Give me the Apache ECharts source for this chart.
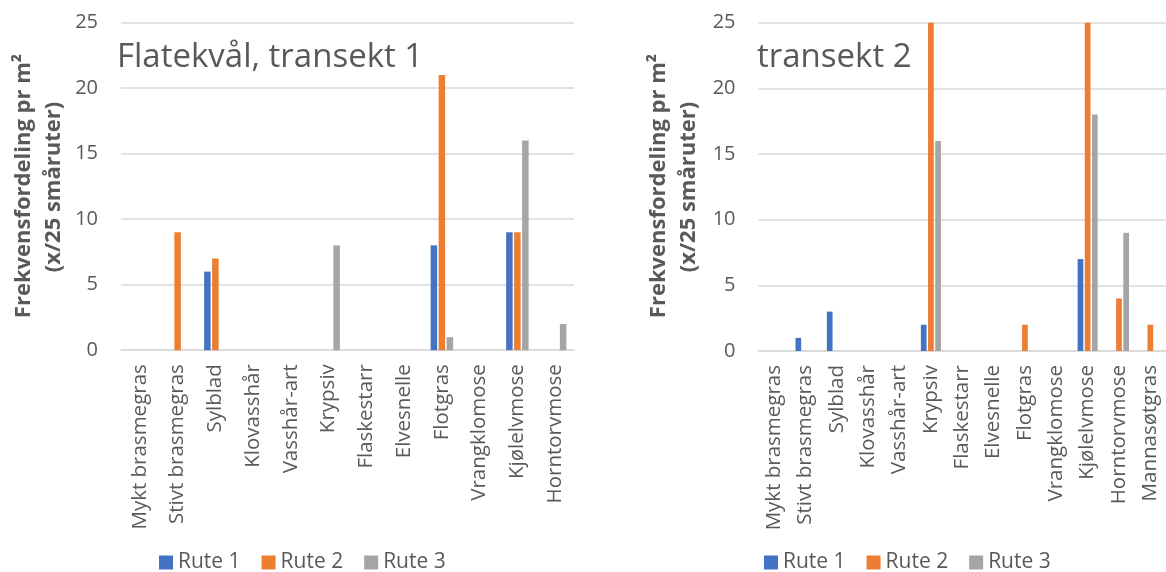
<!DOCTYPE html>
<html>
<head>
<meta charset="utf-8">
<script src="https://cdn.jsdelivr.net/npm/echarts@6/dist/echarts.min.js"></script>
<style>
html,body{margin:0;padding:0;background:#fff;}
#c{width:1166px;height:572px;}
</style>
</head>
<body>
<div id="c"></div>
<script>
const categories1 = ['Mykt brasmegras','Stivt brasmegras','Sylblad','Klovasshår','Vasshår-art','Krypsiv','Flaskestarr','Elvesnelle','Flotgras','Vrangklomose','Kjølelvmose','Horntorvmose'];
const categories2 = ['Mykt brasmegras','Stivt brasmegras','Sylblad','Klovasshår','Vasshår-art','Krypsiv','Flaskestarr','Elvesnelle','Flotgras','Vrangklomose','Kjølelvmose','Horntorvmose','Mannasøtgras'];
const rute1_t1 = [0,0,6,0,0,0,0,0,8,0,9,0];
const rute2_t1 = [0,9,7,0,0,0,0,0,21,0,9,0];
const rute3_t1 = [0,0,0,0,0,8,0,0,1,0,16,2];
const rute1_t2 = [0,1,3,0,0,2,0,0,0,0,7,0,0];
const rute2_t2 = [0,0,0,0,0,25,0,0,2,0,25,4,2];
const rute3_t2 = [0,0,0,0,0,16,0,0,0,0,18,9,0];
const seriesNames = ['Rute 1','Rute 2','Rute 3'];
const yTicks = {min:0, max:25, interval:5};
const title1 = 'Flatekvål, transekt 1';
const title2 = 'transekt 2';
const yTitle1 = 'Frekvensfordeling pr m²';
const yTitle2 = '(x/25 småruter)';

const colors = ['#4472C4','#ED7D31','#A5A5A5'];
const FONT = 'Open Sans';
const TXT = '#595959';

function xAxisCfg(idx, cats){
  return {
    type:'category', gridIndex:idx, data:cats,
    axisLine:{show:true, lineStyle:{color:'#D9D9D9', width:1.5}},
    axisTick:{show:false},
    axisLabel:{rotate:90, interval:0, margin:14, fontSize:20.5, color:TXT, fontFamily:FONT},
    splitLine:{show:false}
  };
}
function yAxisCfg(idx){
  return {
    type:'value', gridIndex:idx, min:yTicks.min, max:yTicks.max, interval:yTicks.interval,
    axisLine:{show:false}, axisTick:{show:false},
    axisLabel:{margin:23, fontSize:20, color:TXT, fontFamily:FONT},
    splitLine:{lineStyle:{color:'#D9D9D9', width:1.5}}
  };
}
function barSeries(name, data, axisIdx, color, bw, gap){
  return {
    name:name, type:'bar', xAxisIndex:axisIdx, yAxisIndex:axisIdx, data:data,
    barWidth:bw, barGap:gap, itemStyle:{color:color}, silent:true, animation:false
  };
}
function legendCfg(left){
  return {data:seriesNames, left:left, top:552, padding:0, itemWidth:14, itemHeight:14, itemGap:21, icon:'rect',
    textStyle:{fontSize:21, color:TXT, fontFamily:FONT}, selectedMode:false};
}

const chart = echarts.init(document.getElementById('c'), null, {renderer:'canvas'});
const option = {
  animation:false,
  grid:[
    {left:121, top:22.7, width:453, height:327.5},
    {left:758.5, top:22.7, width:409.5, height:328.3}
  ],
  xAxis:[xAxisCfg(0, categories1), xAxisCfg(1, categories2)],
  yAxis:[yAxisCfg(0), yAxisCfg(1)],
  legend:[legendCfg(159), legendCfg(764)],
  graphic:[
    {type:'text', left:117, top:41, style:{text:title1, fontSize:33, fill:TXT, fontFamily:FONT}},
    {type:'text', left:757, top:41, style:{text:title2, fontSize:33, fill:TXT, fontFamily:FONT}},
    {type:'text', x:24, y:186, rotation:Math.PI/2, style:{text:yTitle1, fontSize:22, fontWeight:'bold', fill:TXT, fontFamily:FONT, align:'center', verticalAlign:'middle'}},
    {type:'text', x:54, y:187, rotation:Math.PI/2, style:{text:yTitle2, fontSize:22, fontWeight:'bold', fill:TXT, fontFamily:FONT, align:'center', verticalAlign:'middle'}},
    {type:'text', x:659, y:186, rotation:Math.PI/2, style:{text:yTitle1, fontSize:22, fontWeight:'bold', fill:TXT, fontFamily:FONT, align:'center', verticalAlign:'middle'}},
    {type:'text', x:689, y:187, rotation:Math.PI/2, style:{text:yTitle2, fontSize:22, fontWeight:'bold', fill:TXT, fontFamily:FONT, align:'center', verticalAlign:'middle'}}
  ],
  series:[
    barSeries(seriesNames[0], rute1_t1, 0, colors[0], 6.5, '23%'),
    barSeries(seriesNames[1], rute2_t1, 0, colors[1], 6.5, '23%'),
    barSeries(seriesNames[2], rute3_t1, 0, colors[2], 6.5, '23%'),
    barSeries(seriesNames[0], rute1_t2, 1, colors[0], 5.7, '26%'),
    barSeries(seriesNames[1], rute2_t2, 1, colors[1], 5.7, '26%'),
    barSeries(seriesNames[2], rute3_t2, 1, colors[2], 5.7, '26%')
  ]
};
chart.setOption(option);
</script>
</body>
</html>
